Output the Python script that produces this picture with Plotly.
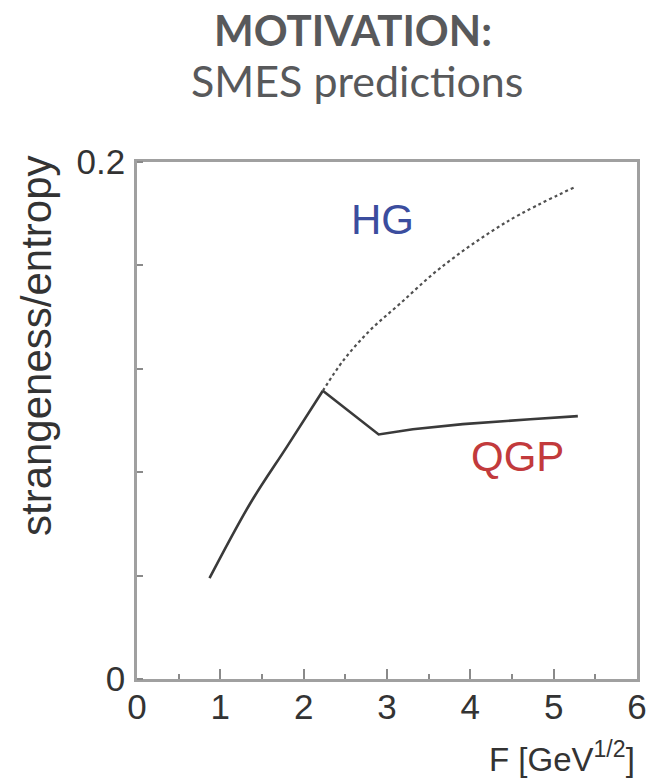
import plotly.graph_objects as go

# QGP branch (solid): rises with F, kinks at the onset, then levels off
f_qgp = [0.87, 1.36, 1.80, 2.23, 2.56, 2.90, 3.31, 3.91, 4.72, 5.29]
s_qgp = [0.039, 0.068, 0.0899, 0.1115, 0.1033, 0.0946, 0.0966, 0.0986, 0.1005, 0.1017]
ONSET = 3  # index of the kink where the two branches split

# HG branch (dotted): continuation of the hadron-gas curve above the onset
f_hg = [2.23, 2.48, 2.80, 3.16, 3.64, 4.44, 5.26]
s_hg = [0.1115, 0.1234, 0.135, 0.1453, 0.159, 0.1769, 0.1904]

x_ticks = [0, 1, 2, 3, 4, 5, 6]
y_ticks = [0, 0.2]
y_tick_text = ["0", "0.2"]

W, H = 670, 778
L, R, T, B = 137, 33, 162, 99
pw, ph = W - L - R, H - T - B


def px(x):
    return (x - L) / pw


def py(y):
    return (H - B - y) / ph


fig = go.Figure()
fig.add_trace(go.Scatter(x=f_hg, y=s_hg, mode="lines", line_shape="spline",
                         line=dict(color="#505050", width=2.2, dash="dot"),
                         showlegend=False, hoverinfo="skip"))
# smooth rise up to the onset
fig.add_trace(go.Scatter(x=f_qgp[:ONSET + 1], y=s_qgp[:ONSET + 1], mode="lines",
                         line_shape="spline",
                         line=dict(color="#3a3a3a", width=2.6),
                         showlegend=False, hoverinfo="skip"))
# drop after the onset and slow rise of the QGP branch
fig.add_trace(go.Scatter(x=f_qgp[ONSET:], y=s_qgp[ONSET:], mode="lines",
                         line=dict(color="#3a3a3a", width=2.6),
                         showlegend=False, hoverinfo="skip"))

tick_font = dict(family="Liberation Sans, Arial, sans-serif", size=35, color="#333333")

fig.update_layout(
    width=W, height=H,
    margin=dict(l=L, r=R, t=T, b=B, pad=0),
    paper_bgcolor="white", plot_bgcolor="white",
    xaxis=dict(range=[0, 6], tickvals=x_ticks, ticks="inside", ticklen=10,
               tickwidth=1.5, tickcolor="#8a8a8a",
               minor=dict(dtick=0.5, ticks="inside", ticklen=5, tickcolor="#8a8a8a", tickwidth=1.5),
               showline=True, linecolor="#a0a0a0", linewidth=2.5, mirror=True,
               showgrid=False, zeroline=False, tickfont=tick_font, ticklabelstandoff=-5),
    yaxis=dict(range=[0, 0.2], tickvals=y_ticks, ticktext=y_tick_text, ticks="",
               minor=dict(dtick=0.04, ticks="inside", ticklen=6, tickcolor="#8a8a8a", tickwidth=1.5),
               showline=True, linecolor="#a0a0a0", linewidth=2.5, mirror=True,
               showgrid=False, zeroline=False, tickfont=tick_font, ticklabelstandoff=2),
    annotations=[
        dict(text="<b>MOTIVATION:</b>", x=px(353), y=py(30), xref="paper", yref="paper",
             showarrow=False, xanchor="center", yanchor="middle",
             font=dict(family="Lato, sans-serif", size=42, color="#58595b")),
        dict(text="SMES predictions", x=px(357), y=py(80), xref="paper", yref="paper",
             showarrow=False, xanchor="center", yanchor="middle",
             font=dict(family="Lato, sans-serif", size=43, color="#58595b")),
        dict(text="strangeness/entropy", x=px(36), y=py(346), xref="paper", yref="paper",
             showarrow=False, textangle=-90, xanchor="center", yanchor="middle",
             font=dict(family="Liberation Sans, Arial, sans-serif", size=42, color="#333333")),
        dict(text="F [GeV<sup>1/2</sup>]", x=1.0, y=py(757), xref="paper", yref="paper",
             showarrow=False, xanchor="right", yanchor="middle",
             font=dict(family="Liberation Sans, Arial, sans-serif", size=33, color="#333333")),
        dict(text="HG", x=2.94, y=0.1776, xref="x", yref="y", showarrow=False,
             font=dict(family="Liberation Sans, Arial, sans-serif", size=42, color="#3b4d9e")),
        dict(text="QGP", x=4.57, y=0.0859, xref="x", yref="y", showarrow=False,
             font=dict(family="Liberation Sans, Arial, sans-serif", size=42, color="#c23a3c")),
    ],
)

fig.write_html("out.html")
